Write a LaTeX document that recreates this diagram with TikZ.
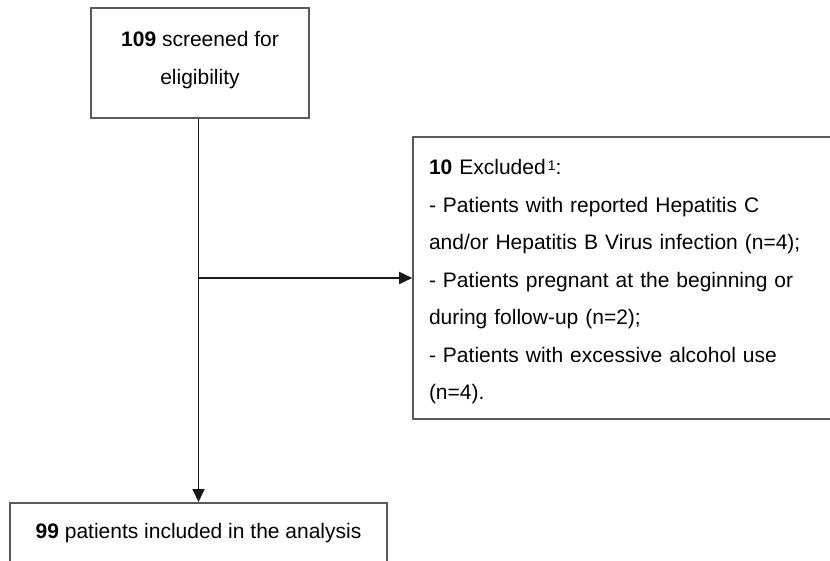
\documentclass[tikz,border=0pt]{standalone}
\usepackage{fontspec}
\setmainfont{Liberation Sans}
\usetikzlibrary{arrows.meta}
\begin{document}
\begin{tikzpicture}[x=1pt,y=-1pt,
box/.style={draw=black!65,line width=1.6pt,inner sep=0pt,font=\fontsize{21}{37.5}\selectfont},
arr/.style={draw=black!90,line width=1.8pt,-{Triangle[length=13pt,width=12pt]}}]
\useasboundingbox(0,0)rectangle(830,561);
\node[box,minimum width=218pt,minimum height=110pt,align=center](screen)at(200,63){\textbf{109} screened for\\eligibility\rule[-10pt]{0pt}{10pt}};
\node[box,minimum width=440pt,minimum height=282pt,text width=408pt,align=left](excl)at(633,278){\rule{0pt}{23.3pt}\textbf{10} Excluded\kern2pt\raisebox{4pt}{\fontsize{14}{14}\selectfont 1}:\\- Patients with reported Hepatitis C\\and/or Hepatitis B Virus infection (n=4);\\- Patients pregnant at the beginning or\\during follow-up (n=2);\\- Patients with excessive alcohol use\\(n=4).};
\node[box,minimum width=377pt,minimum height=61.5pt,anchor=north](incl)at(198.5,502){\textbf{99} patients included in the analysis};
\draw[arr](incl.north|-screen.south)--(incl.north);
\draw[arr](incl.north|-excl.west)--(excl.west);
\end{tikzpicture}
\end{document}
